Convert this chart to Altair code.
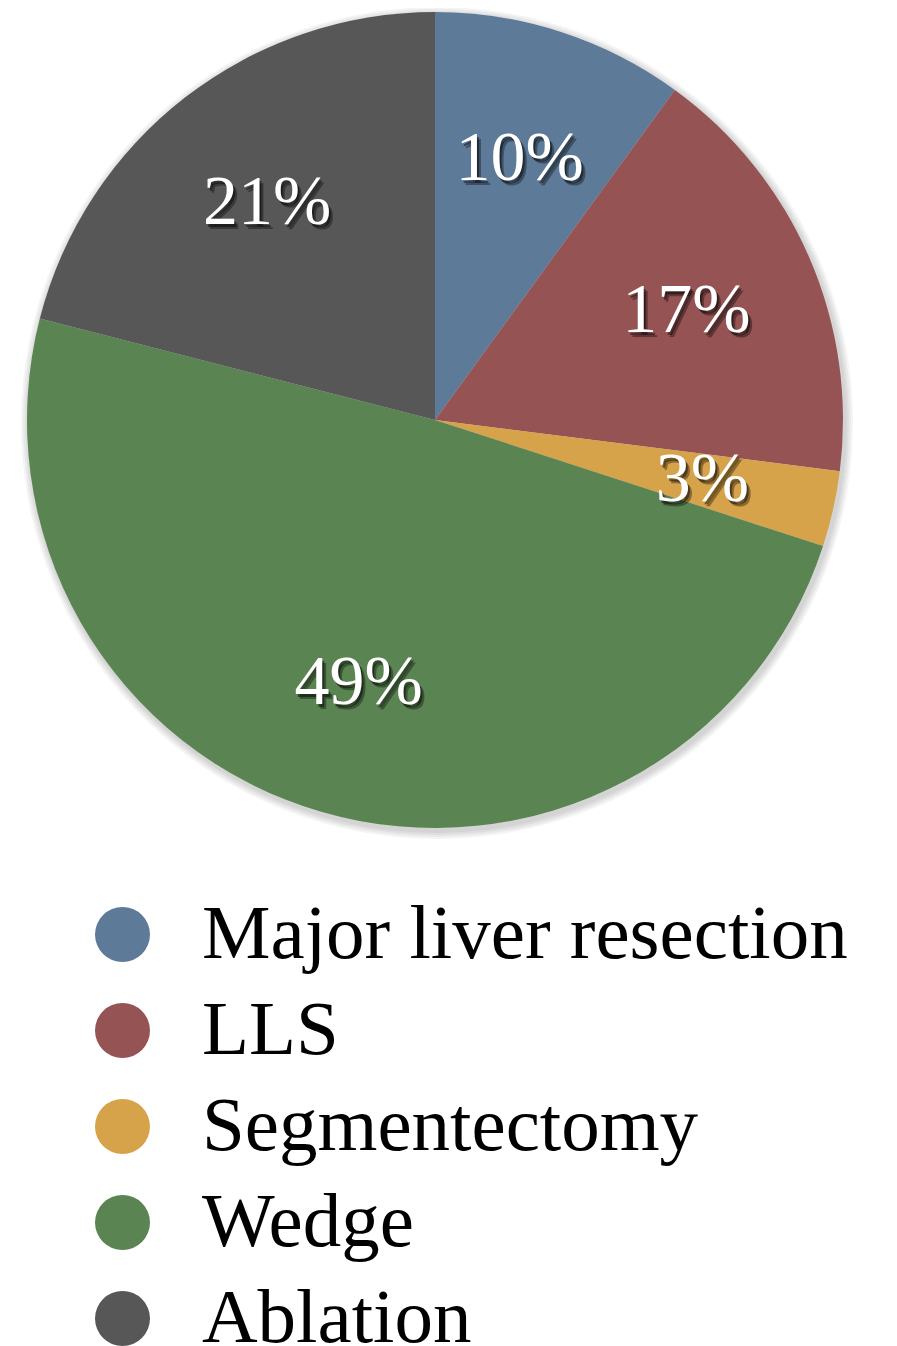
import altair as alt
import pandas as pd

categories = ["Major liver resection", "LLS", "Segmentectomy", "Wedge", "Ablation"]
values = [10, 17, 3, 49, 21]
colors = ["#5e7a99", "#955353", "#d6a24a", "#5a8552", "#575757"]
labels = [f"{v}%" for v in values]

df = pd.DataFrame({
    "category": categories,
    "value": values,
    "order": list(range(len(categories))),
    "label": labels,
})

CX, CY, R = 427, 412, 408
LR = 274

color_enc = alt.Color(
    "category:N",
    scale=alt.Scale(domain=categories, range=colors),
    sort=categories,
    legend=alt.Legend(
        title=None, orient="none", legendX=76, legendY=888,
        symbolType="circle", symbolSize=3025, symbolStrokeWidth=0, symbolOpacity=1,
        labelFontSize=77, labelFont="Liberation Serif", labelColor="black",
        rowPadding=18, labelOffset=41, padding=0, labelLimit=0,
    ),
)


def base(dx=0, dy=0):
    return alt.Chart(df).encode(
        theta=alt.Theta("value:Q", stack=True),
        order=alt.Order("order:Q"),
        x=alt.value(CX + dx),
        y=alt.value(CY + dy),
    )


halos = [
    base(2, 3).mark_arc(radius=R + k, color="black", opacity=0.045)
    for k in (2, 4, 6, 8)
]

pie = base().mark_arc(radius=R).encode(color=color_enc)

text_shadow1 = base().mark_text(
    radius=LR, fontSize=70, font="Liberation Serif", color="black",
    opacity=0.35, dx=4, dy=5,
).encode(text="label:N")
text_shadow2 = base().mark_text(
    radius=LR, fontSize=70, font="Liberation Serif", color="black",
    opacity=0.45, dx=2, dy=3,
).encode(text="label:N")
text = base().mark_text(
    radius=LR, fontSize=70, font="Liberation Serif", color="white",
).encode(text="label:N")

chart = alt.layer(*halos, pie, text_shadow1, text_shadow2, text).properties(
    width=881, height=1380, padding=0, autosize=alt.AutoSizeParams(type="none")
).configure_view(stroke=None)

chart.save("out.html", embed_options={"renderer": "svg", "actions": False})
